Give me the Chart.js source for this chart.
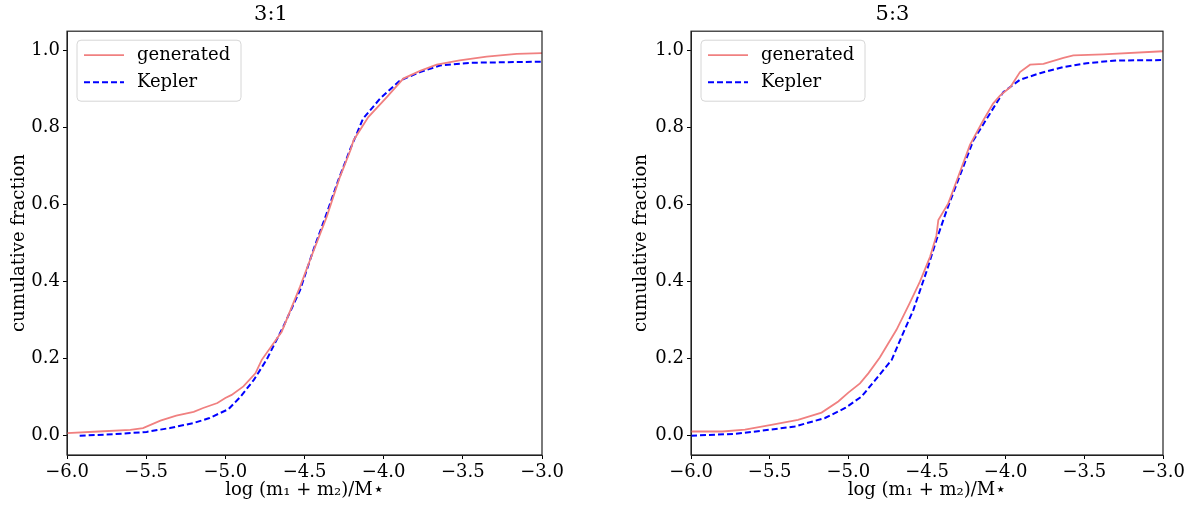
<!DOCTYPE html>
<html>
<head>
<meta charset="utf-8">
<script src="https://cdn.jsdelivr.net/npm/chart.js@4/dist/chart.umd.min.js"></script>
<style>
  html, body { margin: 0; padding: 0; background: #fff; }
  #wrap { position: relative; width: 1193px; height: 506px; }
  .pane { position: absolute; top: 0; height: 506px; }
</style>
</head>
<body>
<div id="wrap">
  <div class="pane" style="left:0px;width:596px;"><canvas id="c1"></canvas></div>
  <div class="pane" style="left:596px;width:597px;"><canvas id="c2"></canvas></div>
</div>
<script>
// ---- data ----
const titles = ["3:1", "5:3"];
const seriesNames = ["generated", "Kepler"];
const xTicks = [-6.0, -5.5, -5.0, -4.5, -4.0, -3.5, -3.0];
const yTicks = [0.0, 0.2, 0.4, 0.6, 0.8, 1.0];

// 3:1 panel
const gen31X = [-6.0, -5.8, -5.6, -5.52, -5.41, -5.31, -5.2, -5.14, -5.05, -5.0, -4.96, -4.886, -4.81, -4.77, -4.644, -4.528, -4.465, -4.36, -4.276, -4.21, -4.19, -4.097, -3.98, -3.876, -3.77, -3.665, -3.52, -3.35, -3.16, -3.0];
const gen31Y = [0.007, 0.011, 0.015, 0.02, 0.039, 0.052, 0.062, 0.072, 0.085, 0.098, 0.106, 0.128, 0.162, 0.197, 0.27, 0.387, 0.456, 0.568, 0.672, 0.741, 0.767, 0.827, 0.879, 0.927, 0.947, 0.963, 0.974, 0.984, 0.991, 0.993];
const kep31X = [-5.92, -5.7, -5.497, -5.35, -5.2, -5.10, -4.98, -4.907, -4.82, -4.74, -4.634, -4.528, -4.444, -4.36, -4.287, -4.21, -4.13, -4.023, -3.897, -3.77, -3.644, -3.455, -3.0];
const kep31Y = [0.0, 0.004, 0.01, 0.02, 0.033, 0.046, 0.069, 0.10, 0.145, 0.197, 0.283, 0.378, 0.482, 0.577, 0.663, 0.745, 0.823, 0.875, 0.922, 0.944, 0.961, 0.968, 0.971];

// 5:3 panel
const gen53X = [-6.0, -5.8, -5.657, -5.49, -5.32, -5.17, -5.064, -5.0, -4.926, -4.873, -4.80, -4.694, -4.61, -4.545, -4.48, -4.44, -4.428, -4.365, -4.31, -4.227, -4.142, -4.08, -4.036, -3.97, -3.909, -3.845, -3.76, -3.633, -3.57, -3.38, -3.0];
const gen53Y = [0.011, 0.011, 0.016, 0.028, 0.041, 0.06, 0.089, 0.112, 0.136, 0.162, 0.203, 0.275, 0.344, 0.40, 0.465, 0.52, 0.56, 0.603, 0.663, 0.755, 0.819, 0.862, 0.883, 0.905, 0.944, 0.963, 0.965, 0.981, 0.987, 0.990, 0.998];
const kep53X = [-6.0, -5.72, -5.55, -5.34, -5.148, -5.02, -4.915, -4.81, -4.724, -4.67, -4.587, -4.5, -4.44, -4.375, -4.31, -4.205, -4.12, -4.015, -3.909, -3.782, -3.633, -3.485, -3.295, -3.0];
const kep53Y = [0.0, 0.005, 0.013, 0.024, 0.046, 0.072, 0.102, 0.154, 0.197, 0.249, 0.326, 0.43, 0.508, 0.585, 0.655, 0.767, 0.823, 0.892, 0.924, 0.941, 0.957, 0.967, 0.974, 0.975];

// ---- styling ----
const FONT = "'DejaVu Serif', 'Liberation Serif', serif";
const RED = '#f08080';
const BLUE = '#0000ff';

function pts(xs, ys) { return xs.map((x, i) => ({ x: x, y: ys[i] })); }
function fmt(v) { return (v < 0 ? '\u2212' : '') + Math.abs(v).toFixed(1); }

const framePlugin = {
  id: 'frame',
  afterDatasetsDraw(chart) {
    const a = chart.chartArea, ctx = chart.ctx;
    ctx.save();
    ctx.strokeStyle = '#222';
    ctx.lineWidth = 1.2;
    ctx.strokeRect(a.left, a.top, a.right - a.left, a.bottom - a.top);
    // legend
    const bx = a.left + 10, by = a.top + 9, bw = 164, bh = 61, r = 4;
    ctx.beginPath();
    ctx.moveTo(bx + r, by);
    ctx.arcTo(bx + bw, by, bx + bw, by + bh, r);
    ctx.arcTo(bx + bw, by + bh, bx, by + bh, r);
    ctx.arcTo(bx, by + bh, bx, by, r);
    ctx.arcTo(bx, by, bx + bw, by, r);
    ctx.closePath();
    ctx.fillStyle = 'rgba(255,255,255,0.8)';
    ctx.fill();
    ctx.strokeStyle = '#d6d6d6';
    ctx.lineWidth = 1;
    ctx.stroke();
    const rows = [by + 15, by + 42];
    chart.data.datasets.forEach((ds, i) => {
      ctx.beginPath();
      ctx.strokeStyle = ds.borderColor;
      ctx.lineWidth = ds.borderWidth;
      ctx.setLineDash(ds.borderDash || []);
      ctx.moveTo(bx + 7, rows[i]);
      ctx.lineTo(bx + 47, rows[i]);
      ctx.stroke();
      ctx.setLineDash([]);
      ctx.fillStyle = '#000';
      ctx.font = '18px ' + FONT;
      ctx.textBaseline = 'middle';
      ctx.textAlign = 'left';
      ctx.fillText(ds.label, bx + 60, rows[i]);
    });
    ctx.restore();
  }
};

function makeChart(id, title, genX, genY, kepX, kepY, padLeft, padRight, yWidth) {
  return new Chart(document.getElementById(id), {
    type: 'scatter',
    data: {
      datasets: [
        { label: seriesNames[0], data: pts(genX, genY), showLine: true, borderColor: RED, backgroundColor: RED,
          borderWidth: 1.8, pointRadius: 0, tension: 0 },
        { label: seriesNames[1], data: pts(kepX, kepY), showLine: true, borderColor: BLUE, backgroundColor: BLUE,
          borderWidth: 2, borderDash: [6, 3], pointRadius: 0, tension: 0 }
      ]
    },
    options: {
      responsive: true,
      maintainAspectRatio: false,
      animation: false,
      layout: { padding: { left: padLeft, right: padRight, top: 0, bottom: 0 } },
      plugins: {
        legend: { display: false },
        tooltip: { enabled: false },
        title: { display: true, text: title, color: '#000',
                 font: { family: FONT, size: 21, weight: 'normal', lineHeight: 1.2 },
                 padding: { top: 2, bottom: 4 } }
      },
      scales: {
        x: {
          type: 'linear', min: -6.0, max: -3.0,
          afterBuildTicks: s => { s.ticks = xTicks.map(v => ({ value: v })); },
          afterFit: s => { s.height = 51; },
          grid: { display: true, drawOnChartArea: false, drawTicks: true, tickLength: 4, color: '#000', lineWidth: 1 },
          border: { display: true, color: '#222' },
          ticks: { color: '#000', padding: 3, maxRotation: 0, autoSkip: false,
                   font: { family: FONT, size: 18 }, callback: v => fmt(v) },
          title: { display: true, text: 'log (m\u2081 + m\u2082)/M\u22C6', color: '#000',
                   font: { family: FONT, size: 18, lineHeight: 1.2 }, padding: { top: 0, bottom: 5 } }
        },
        y: {
          type: 'linear', min: -0.05, max: 1.05,
          afterBuildTicks: s => { s.ticks = yTicks.map(v => ({ value: v })); },
          afterFit: s => { s.width = yWidth; },
          grid: { display: true, drawOnChartArea: false, drawTicks: true, tickLength: 4, color: '#000', lineWidth: 1 },
          border: { display: true, color: '#222' },
          ticks: { color: '#000', padding: 3, autoSkip: false,
                   font: { family: FONT, size: 18 }, callback: v => v.toFixed(1) },
          title: { display: true, text: 'cumulative fraction', color: '#000',
                   font: { family: FONT, size: 18, lineHeight: 1.2 }, padding: { top: 9, bottom: 0 } }
        }
      }
    },
    plugins: [framePlugin]
  });
}

makeChart('c1', titles[0], gen31X, gen31Y, kep31X, kep31Y, 0, 54, 67);
makeChart('c2', titles[1], gen53X, gen53Y, kep53X, kep53Y, 26, 30, 69);
</script>
</body>
</html>
